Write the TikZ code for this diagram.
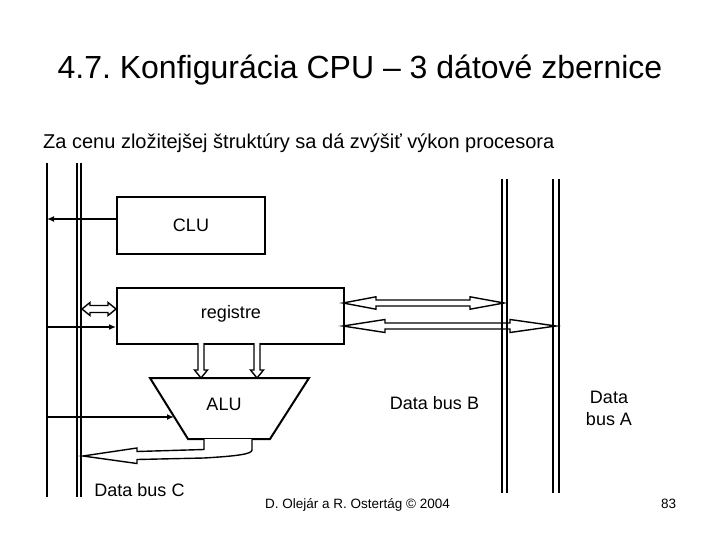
\documentclass[tikz,border=0pt]{standalone}
\usepackage{fontspec}
\setmainfont{Liberation Sans}
\usetikzlibrary{arrows.meta,calc}
\frenchspacing
\newcommand{\hollowH}[6]{%
  \draw[hollow] let \p1=(#1), \p2=(#2) in
    (\x1,\y1) -- (\x1+#3pt,\y1+#6pt) -- (\x1+#3pt,\y1+#5pt) -- (\x2-#4pt,\y2+#5pt) --
    (\x2-#4pt,\y2+#6pt) -- (\x2,\y2) -- (\x2-#4pt,\y2-#6pt) -- (\x2-#4pt,\y2-#5pt) --
    (\x1+#3pt,\y1-#5pt) -- (\x1+#3pt,\y1-#6pt) -- cycle;}
\newcommand{\hollowV}[5]{%
  \draw[hollow] let \p1=(#1), \p2=(#2) in
    (\x1-#4pt,\y1) -- (\x1-#4pt,\y2+#3pt) -- (\x1-#5pt,\y2+#3pt) -- (\x2,\y2) --
    (\x1+#5pt,\y2+#3pt) -- (\x1+#4pt,\y2+#3pt) -- (\x1+#4pt,\y1);}
\begin{document}
\begin{tikzpicture}[x=1pt,y=-1pt,
  bus/.style={line width=2pt},
  box/.style={draw, line width=2pt, inner sep=0pt, anchor=north west, font=\fontsize{18}{22}\selectfont},
  conn/.style={line width=1.8pt, -{Latex[length=7pt,width=6pt]}},
  hollow/.style={line width=1.4pt, fill=white, line join=miter},
  lbl/.style={font=\fontsize{18}{22}\selectfont, inner sep=0pt, anchor=base},
  foot/.style={font=\fontsize{13.5}{16}\selectfont, inner sep=0pt, anchor=base west}]
\useasboundingbox[fill=white] (0,0) rectangle (720,540);

% texts
\node[font=\fontsize{32}{36}\selectfont, inner sep=0pt, anchor=base] (title) at (360,79) {4.7. Konfigurácia CPU – 3 dátové zbernice};
\node[font=\fontsize{20}{24}\selectfont, inner sep=0pt, anchor=base west] (sub) at (43,149) {Za cenu zložitejšej štruktúry sa dá zvýšiť výkon procesora};
\node[foot] (author) at (265,508) {D. Olejár a R. Ostertág © 2004};
\node[foot] (page) at (661,508) {83};

% blocks
\node[box, minimum width=148pt, minimum height=57pt] (clu) at (116,196) {CLU};
\node[box, minimum width=227pt, minimum height=56pt] (reg) at (116,287) {};
\node[lbl] (reglbl) at (231,318) {registre};
\coordinate (alutl) at (150,378);
\coordinate (alutr) at (309,378);
\coordinate (alubr) at (270,439);
\coordinate (alubl) at (188,439);
\draw[line width=2pt, line join=miter] (alutl) -- (alutr) -- (alubr) -- (alubl) -- cycle;
\node[lbl] (alulbl) at (224,410) {ALU};

% bus coordinates
\coordinate (s1t) at (47,163);  \coordinate (s1b) at (47,497);
\coordinate (c1t) at (77,163);  \coordinate (c1b) at (77,497);
\coordinate (c2t) at (81,163);  \coordinate (c2b) at (81,497);
\coordinate (b1t) at (502,179); \coordinate (b1b) at (502,493);
\coordinate (b2t) at (507,179); \coordinate (b2b) at (507,493);
\coordinate (a1t) at (553,179); \coordinate (a1b) at (553,493);
\coordinate (a2t) at (559,179); \coordinate (a2b) at (559,493);

% hollow arrows
\coordinate (regL) at (343,303); \coordinate (busBin) at (504,303);
\coordinate (regL2) at (343,326); \coordinate (busAin) at (556,326);
\hollowH{regL}{busBin}{33}{34}{3}{6.2}
\hollowH{regL2}{busAin}{42}{46}{3}{6.5}
\coordinate (cL) at (82,309); \coordinate (regW) at (116,309);
\hollowH{cL}{regW}{8}{8}{3.5}{6.5}
\coordinate (o1t) at (201,343); \coordinate (o1b) at (201,378);
\coordinate (o2t) at (257,343); \coordinate (o2b) at (257,378);
\hollowV{o1t}{o1b}{8}{3}{6.5}
\hollowV{o2t}{o2b}{8}{3}{6.5}
% ALU output to data bus C
\coordinate (outL) at (204,439); \coordinate (outR) at (252,439); \coordinate (cTip) at (83,456);
\draw[hollow] (outL) -- (204,449.5) -- (137,451.5) -- (137,448) -- (cTip) -- (137,463.5) -- (137,459.5)
  -- (204,458) .. controls (238,456) and (252,454) .. (252,450) -- (outR);

% buses
\foreach \t/\b in {s1t/s1b, c1t/c1b, c2t/c2b, b1t/b1b, b2t/b2b, a1t/a1b, a2t/a2b}
  \draw[bus] (\t) -- (\b);

% thin connectors
\coordinate (cluW) at (116,219); \coordinate (cluBus) at (47,219);
\draw[conn] (cluW) -- (cluBus);
\coordinate (regBus) at (47,327); \coordinate (regIn) at (116,327);
\draw[conn] (regBus) -- (regIn);
\coordinate (aluBus) at (47,417); \coordinate (aluIn) at (174,417);
\draw[conn] (aluBus) -- (aluIn);

% bus labels
\node[lbl] (busC) at (139.5,496) {Data bus C};
\node[lbl] (busB) at (434.5,409) {Data bus B};
\node[lbl, align=center] (busA) at (609,425) {Data\\bus A};
\end{tikzpicture}
\end{document}
